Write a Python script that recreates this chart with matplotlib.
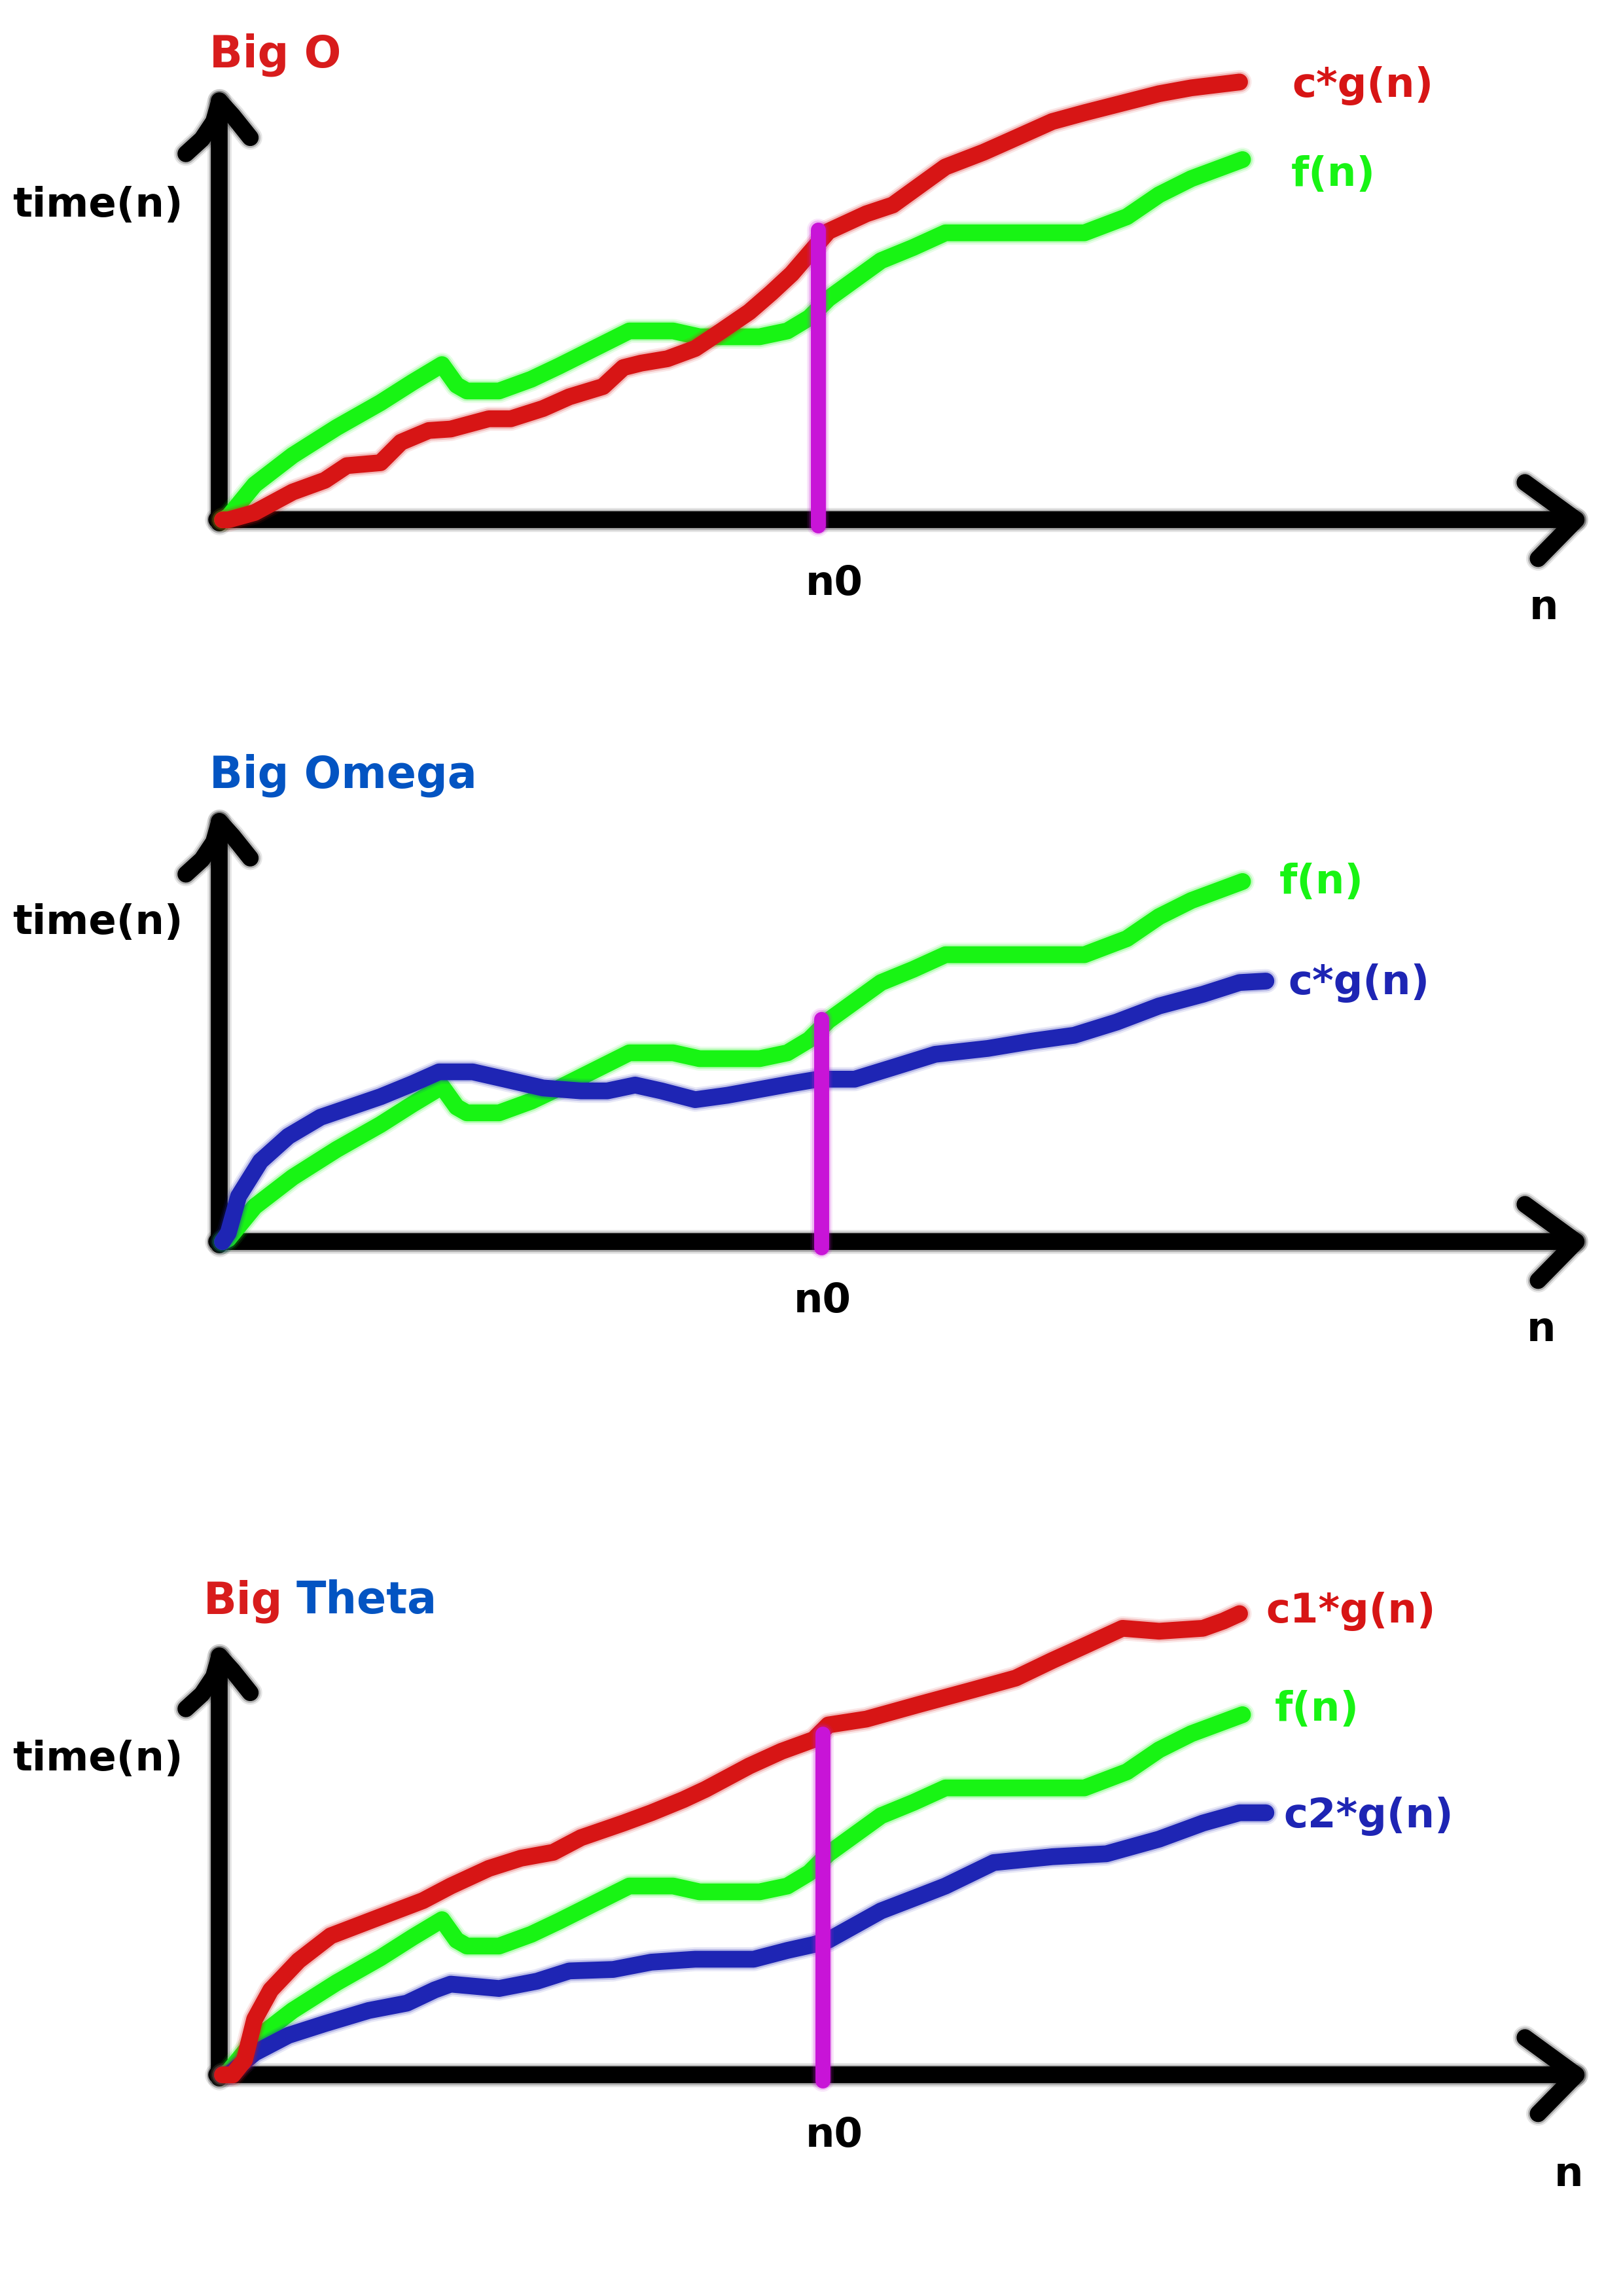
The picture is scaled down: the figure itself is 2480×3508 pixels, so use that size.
#!/usr/bin/env python3
"""
Big O / Big Omega / Big Theta sketch

Three hand-drawn-looking panels: f(n) against c*g(n) bounds, with the
n0 threshold marked by a purple bar. Saved as out.png (2480x3508).
"""

import matplotlib
matplotlib.use("Agg")
import matplotlib.pyplot as plt

# ---- curve data: x = n, y = time(n), each panel has its origin at (0, 0) ----

# f(n) is the same wiggly curve in all three panels
f_n_x = [0, 0.4, 2.2, 4.8, 7.8, 10.8, 13.0, 15.0, 16.0, 16.7, 18.9, 21.1, 23.0, 25.6, 27.8,
         30.8, 32.6, 36.7, 38.6, 40.1, 41.4, 45.0, 47.2, 49.4, 53.1, 58.9, 61.8, 64.0, 66.2, 69.7]
f_n_y = [0, 0.2, 2.4, 4.4, 6.3, 8.0, 9.4, 10.6, 9.2, 8.8, 8.8, 9.6, 10.5, 11.8, 12.9,
         12.9, 12.5, 12.5, 12.9, 13.8, 15.1, 17.7, 18.6, 19.6, 19.6, 19.6, 20.7, 22.2, 23.3, 24.6]

# Big O: upper bound c*g(n)
big_o_cg_x = [0, 0.4, 2.2, 4.8, 7.0, 8.5, 10.8, 12.2, 14.1, 15.6, 18.2, 19.7, 21.9, 23.7, 26.0,
              27.4, 28.6, 30.4, 32.3, 34.1, 36.0, 37.5, 38.9, 41.4, 44.0, 45.8, 49.4, 52.0, 53.8,
              56.7, 58.9, 64.0, 66.2, 69.5]
big_o_cg_y = [0, 0, 0.5, 1.9, 2.7, 3.7, 3.9, 5.3, 6.1, 6.2, 6.9, 6.9, 7.6, 8.4, 9.1,
              10.4, 10.7, 11.0, 11.7, 12.9, 14.2, 15.5, 16.8, 19.7, 20.9, 21.5, 24.1, 25.1, 25.9,
              27.2, 27.8, 29.1, 29.5, 29.9]

# Big Omega: lower bound c*g(n)
omega_cg_x = [0, 0.4, 1.1, 2.6, 4.5, 6.7, 10.8, 13.0, 14.8, 17.1, 19.3, 21.9, 24.5, 26.3, 28.2,
              30.0, 32.3, 34.5, 36.7, 38.9, 40.7, 43.2, 45.8, 48.7, 52.3, 55.3, 58.2, 61.1, 64.0,
              67.0, 69.5, 71.3]
omega_cg_y = [0, 0.6, 3.1, 5.5, 7.2, 8.5, 9.9, 10.8, 11.6, 11.6, 11.1, 10.5, 10.3, 10.3, 10.7,
              10.3, 9.7, 10.0, 10.4, 10.8, 11.1, 11.1, 11.9, 12.8, 13.2, 13.7, 14.1, 15.0, 16.1,
              16.9, 17.7, 17.8]

# Big Theta: upper c1*g(n) and lower c2*g(n)
theta_c1g_x = [0, 0.7, 1.5, 2.2, 3.3, 5.2, 7.4, 10.8, 13.7, 15.6, 18.2, 20.4, 22.6, 24.5, 27.4,
               29.3, 31.5, 33.0, 36.0, 38.2, 40.4, 41.4, 44.0, 47.6, 51.3, 54.2, 56.7, 58.9, 61.5,
               64.0, 67.0, 68.4, 69.5]
theta_c1g_y = [0, 0, 1.0, 3.8, 5.8, 7.8, 9.5, 10.8, 11.9, 12.9, 14.1, 14.8, 15.2, 16.2, 17.2,
               17.9, 18.8, 19.5, 21.1, 22.1, 22.9, 23.9, 24.3, 25.3, 26.3, 27.1, 28.3, 29.3, 30.5,
               30.3, 30.5, 31.0, 31.5]
theta_c2g_x = [0, 0.4, 2.2, 4.5, 7.0, 10.0, 12.6, 14.5, 15.6, 18.9, 21.5, 23.7, 26.7, 29.3, 32.3,
               36.3, 38.6, 40.4, 41.4, 45.0, 47.6, 49.4, 52.7, 56.7, 60.4, 64.0, 67.0, 69.5, 71.3]
theta_c2g_y = [0, 0, 1.5, 2.7, 3.5, 4.4, 4.9, 5.8, 6.2, 5.9, 6.4, 7.1, 7.2, 7.7, 7.9,
               7.9, 8.5, 8.9, 9.2, 11.2, 12.2, 12.9, 14.5, 14.9, 15.1, 16.1, 17.2, 17.9, 17.9]

# n0 marker per panel (position and height of the purple bar)
n0_values = [40.7, 40.9, 41.0]
n0_heights = [19.8, 15.2, 23.3]

# ---- colours ----
RED = '#D71515'
GREEN = '#18F414'
BLUE = '#1E25B4'
PURPLE = '#C814D7'
TITLE_RED = '#D81C1C'
TITLE_BLUE = '#0354C2'

FIG_W_PX, FIG_H_PX = 2480, 3508
REF_W, REF_H = 1109, 1568          # layout measured on the reduced reference
UNIT = 10                          # reference pixels per data unit
ORIGIN_X = 152                     # origin x of every panel (reference px)
PANEL_ORIGINS_Y = [355, 848, 1417]  # origin y of each panel (reference px)

LW = 18.5


def soft_plot(ax, x, y, color, lw, z):
    """Marker-like stroke: solid core plus two faint halos for a blurred edge."""
    k = dict(color=color, solid_capstyle='round', solid_joinstyle='round')
    ax.plot(x, y, lw=lw + 8, alpha=0.10, zorder=z, **k)
    ax.plot(x, y, lw=lw + 4, alpha=0.22, zorder=z + 0.01, **k)
    ax.plot(x, y, lw=lw, zorder=z + 0.02, **k)


def make_panel_axes(fig, origin_y):
    above, below = 350, 110
    bottom = 1 - (origin_y + below) / REF_H
    ax = fig.add_axes([0, bottom, 1, (above + below) / REF_H])
    ax.set_xlim(-ORIGIN_X / UNIT, (REF_W - ORIGIN_X) / UNIT)
    ax.set_ylim(-below / UNIT, above / UNIT)
    ax.axis('off')
    return ax


def draw_axes_arrows(ax, y_top=28.6, x_end=92.5):
    """Hand-drawn style coordinate axes with chevron arrow heads."""
    x0 = -0.2
    soft_plot(ax, [x0, x0], [-0.2, y_top], 'black', LW, 1)
    soft_plot(ax, [-0.4, x_end], [0, 0], 'black', LW, 1)
    # y arrow head (left arm a little curved, like a marker stroke)
    soft_plot(ax, [x0 - 2.3, x0 - 1.2, x0 - 0.4, x0, x0 + 0.9, x0 + 2.1],
              [y_top - 3.6, y_top - 2.6, y_top - 1.4, y_top, y_top - 1.0, y_top - 2.5],
              'black', LW, 1)
    # x arrow head
    soft_plot(ax, [x_end - 3.5, x_end, x_end - 2.6], [2.55, 0, -2.65], 'black', LW, 1)


def draw_n0(ax, n0, h):
    soft_plot(ax, [n0, n0], [-0.4, h], PURPLE, LW - 2, 5)


def common_labels(ax, time_y, n0_xy, n_xy):
    lab = dict(fontsize=45, fontweight='bold', color='black', va='baseline')
    ax.text(-8.5, time_y, 'time(n)', ha='center', **lab)
    ax.text(n0_xy[0], n0_xy[1], 'n0', ha='center', **lab)
    ax.text(n_xy[0], n_xy[1], 'n', ha='center', **lab)


def curve_label(ax, x, y, text, color):
    ax.text(x, y, text, fontsize=45, fontweight='bold', color=color,
            ha='left', va='baseline')


def main():
    fig = plt.figure(figsize=(FIG_W_PX / 100, FIG_H_PX / 100), dpi=100)
    fig.patch.set_facecolor('white')
    title_kw = dict(fontsize=48, fontweight='bold', ha='left', va='baseline')

    # --- Big O ---
    ax = make_panel_axes(fig, PANEL_ORIGINS_Y[0])
    draw_axes_arrows(ax, y_top=28.6)
    soft_plot(ax, f_n_x, f_n_y, GREEN, LW, 2)
    soft_plot(ax, big_o_cg_x, big_o_cg_y, RED, LW, 3)
    draw_n0(ax, n0_values[0], n0_heights[0])
    ax.text(-0.9, 30.9, 'Big O', color=TITLE_RED, **title_kw)
    common_labels(ax, 20.7, (41.8, -5.15), (90.3, -6.8))
    curve_label(ax, 73.1, 28.9, 'c*g(n)', RED)
    curve_label(ax, 73.0, 22.8, 'f(n)', GREEN)

    # --- Big Omega ---
    ax = make_panel_axes(fig, PANEL_ORIGINS_Y[1])
    draw_axes_arrows(ax, y_top=28.7)
    soft_plot(ax, f_n_x, f_n_y, GREEN, LW, 2)
    soft_plot(ax, omega_cg_x, omega_cg_y, BLUE, LW, 3)
    draw_n0(ax, n0_values[1], n0_heights[1])
    ax.text(-0.9, 31.0, 'Big Omega', color=TITLE_BLUE, **title_kw)
    common_labels(ax, 21.0, (41.0, -4.8), (90.1, -6.8))
    curve_label(ax, 72.2, 23.8, 'f(n)', GREEN)
    curve_label(ax, 72.8, 16.9, 'c*g(n)', BLUE)

    # --- Big Theta ---
    ax = make_panel_axes(fig, PANEL_ORIGINS_Y[2])
    draw_axes_arrows(ax, y_top=28.6)
    soft_plot(ax, f_n_x, f_n_y, GREEN, LW, 2)
    soft_plot(ax, theta_c2g_x, theta_c2g_y, BLUE, LW, 3)
    soft_plot(ax, theta_c1g_x, theta_c1g_y, RED, LW, 4)
    draw_n0(ax, n0_values[2], n0_heights[2])
    big = ax.text(-1.3, 31.5, 'Big', color=TITLE_RED, **title_kw)
    ax.annotate('Theta', xy=(1, 31.5), xycoords=(big, 'data'),
                xytext=(15, 0), textcoords='offset points',
                color=TITLE_BLUE, **title_kw)
    common_labels(ax, 20.8, (41.8, -4.9), (92.0, -7.6))
    curve_label(ax, 71.3, 30.9, 'c1*g(n)', RED)
    curve_label(ax, 71.9, 24.2, 'f(n)', GREEN)
    curve_label(ax, 72.5, 16.9, 'c2*g(n)', BLUE)

    fig.savefig('out.png', dpi=100, facecolor='white')
    plt.close(fig)


if __name__ == "__main__":
    main()
